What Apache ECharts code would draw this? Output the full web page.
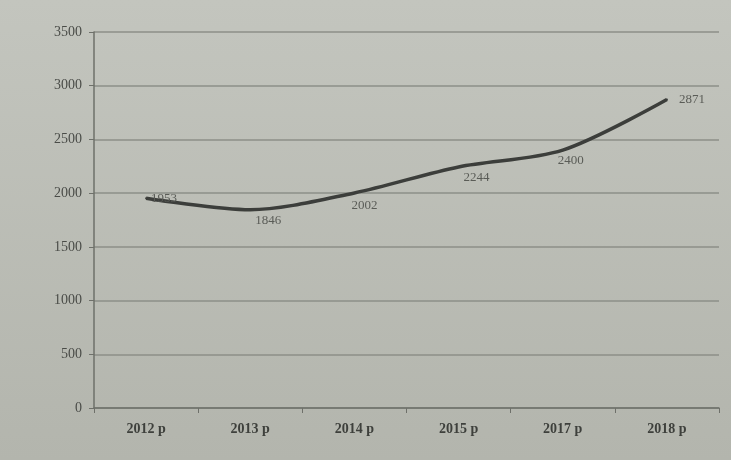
<!DOCTYPE html>
<html><head><meta charset="utf-8">
<script src="https://cdn.jsdelivr.net/npm/echarts@6/dist/echarts.min.js"></script>
<style>html,body{margin:0;padding:0;background:#b9bbb4;}#c{width:731px;height:460px;}</style>
</head><body><div id="c"></div>
<script>
const categories = ['2012 р', '2013 р', '2014 р', '2015 р', '2017 р', '2018 р'];
const values = [1953, 1846, 2002, 2244, 2400, 2871];
const yTicks = [0, 500, 1000, 1500, 2000, 2500, 3000, 3500];

const labelOffsets = [[18, -12], [18, -2], [10, 0], [18, -2], [8, -2], [0, 0]];
const data = values.map((v, i) => ({
  value: v,
  label: i === values.length - 1
    ? { position: 'right', offset: [6, 0] }
    : { position: 'bottom', offset: labelOffsets[i] }
}));

const chart = echarts.init(document.getElementById('c'));
chart.setOption({
  backgroundColor: {
    type: 'linear', x: 0, y: 0, x2: 0, y2: 1,
    colorStops: [{ offset: 0, color: '#c3c5be' }, { offset: 1, color: '#b3b5ad' }]
  },
  textStyle: { fontFamily: 'Liberation Serif' },
  grid: { left: 94, right: 12, top: 32, bottom: 52 },
  xAxis: {
    type: 'category', data: categories, boundaryGap: true,
    axisLine: { lineStyle: { color: '#6e706a', width: 1.5 } },
    axisTick: { show: true, alignWithLabel: false, lineStyle: { color: '#6e706a' } },
    axisLabel: { color: '#3e403c', fontSize: 14, fontWeight: 'bold', margin: 14 }
  },
  yAxis: {
    type: 'value', min: 0, max: 3500, interval: 500,
    axisLine: { show: true, lineStyle: { color: '#6e706a', width: 1.5 } },
    axisTick: { show: true, lineStyle: { color: '#6e706a' } },
    axisLabel: { color: '#4a4c48', fontSize: 14, margin: 12,
      formatter: v => yTicks.includes(v) ? String(v) : '' },
    splitLine: { lineStyle: { color: '#8d8f89', width: 1.5 } }
  },
  series: [{
    type: 'line', data: data, smooth: 0.3,
    symbol: 'circle', symbolSize: 2, showSymbol: true,
    itemStyle: { color: '#3c3e3b' },
    lineStyle: { color: '#3c3e3b', width: 3.5 },
    label: { show: true, color: '#5a5c57', fontSize: 13 }
  }]
});
</script></body></html>
